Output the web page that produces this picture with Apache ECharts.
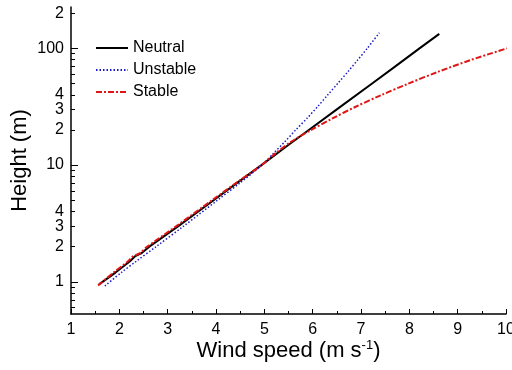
<!DOCTYPE html>
<html>
<head>
<meta charset="utf-8">
<script src="https://cdn.jsdelivr.net/npm/echarts@6/dist/echarts.min.js"></script>
<style>
  html, body { margin: 0; padding: 0; background: #fff; }
  #chart { width: 512px; height: 370px; }
</style>
</head>
<body>
<div id="chart"></div>
<script>
// Wind profiles: height (m) against wind speed (m/s) for three stability classes
const neutralHeight = [0.95, 1.2, 1.5, 1.65, 1.75, 2, 3, 5, 7, 10, 15, 20, 30, 50, 70, 100, 133];
const neutralSpeed  = [1.58, 1.92, 2.22, 2.32, 2.45, 2.62, 3.22, 3.95, 4.43, 4.94, 5.51, 5.92, 6.50, 7.23, 7.71, 8.21, 8.62];

const unstableHeight = [0.92, 1.2, 1.5, 2, 3, 5, 7, 10, 12.6, 15.8, 20, 25.1, 31.6, 39.8, 50.1, 63.1, 79.4, 100, 136];
const unstableSpeed  = [1.70, 2.04, 2.35, 2.76, 3.33, 4.03, 4.49, 4.95, 5.19, 5.42, 5.65, 5.88, 6.10, 6.31, 6.52, 6.73, 6.93, 7.13, 7.38];

const stableHeight = [0.93, 1.2, 1.5, 1.65, 1.75, 2, 3, 5, 7, 10, 12.6, 15.8, 20, 25.1, 31.6, 39.8, 50.1, 63.1, 79.4, 100];
const stableSpeed  = [1.56, 1.88, 2.18, 2.28, 2.42, 2.58, 3.18, 3.92, 4.41, 4.94, 5.23, 5.55, 5.97, 6.41, 6.89, 7.42, 7.99, 8.60, 9.27, 10.02];

// Height axis: labelled values and their printed text, plus tick positions
const yLabelValues = [1, 2, 3, 4, 10, 20, 30, 40, 100, 200];
const yLabelTexts  = ['1', '2', '3', '4', '10', '2', '3', '4', '100', '2'];
const yMajorTicks  = [1, 10, 100];
const yMinorTicks  = [0.6, 0.7, 0.8, 0.9, 2, 3, 4, 5, 6, 7, 8, 9, 20, 30, 40, 50, 60, 70, 80, 90, 200];

const pairs = (xs, ys) => xs.map((x, i) => [x, ys[i]]);

const FONT = 'Liberation Sans, Arial, sans-serif';
const chart = echarts.init(document.getElementById('chart'), null, { renderer: 'canvas' });

function yLabel(v) {
  for (let i = 0; i < yLabelValues.length; i++) {
    if (Math.abs(v - yLabelValues[i]) / yLabelValues[i] < 1e-6) return yLabelTexts[i];
  }
  return '';
}

const yCommon = {
  type: 'log',
  logBase: 10,
  min: 0.53,
  max: 226,
  position: 'left',
  splitLine: { show: false }
};

chart.setOption({
  animation: false,
  backgroundColor: '#ffffff',
  grid: { left: 71, right: 6, top: 7, bottom: 56, containLabel: false, outerBoundsMode: 'none' },
  legend: {
    orient: 'vertical',
    left: 90,
    top: 35,
    itemWidth: 32,
    itemHeight: 10,
    itemGap: 6,
    itemStyle: { opacity: 0 },
    textStyle: { fontFamily: FONT, fontSize: 16, color: '#000' },
    data: ['Neutral', 'Unstable', 'Stable']
  },
  xAxis: {
    type: 'value',
    min: 1,
    max: 10,
    interval: 1,
    name: '{a|Wind speed (m s}{s|-1}{a|)}',
    nameLocation: 'middle',
    nameGap: 25,
    nameMoveOverlap: false,
    nameTextStyle: {
      rich: {
        a: { fontFamily: FONT, fontSize: 22, color: '#000' },
        s: { fontFamily: FONT, fontSize: 13, color: '#000', verticalAlign: 'top', padding: [0, 0, 11, 0] }
      }
    },
    axisLine: { lineStyle: { color: '#000', width: 1.5 } },
    axisTick: { inside: true, length: 5, lineStyle: { color: '#000', width: 1 } },
    minorTick: { show: true, splitNumber: 2, length: 3, lineStyle: { color: '#000', width: 1 } },
    axisLabel: { fontFamily: FONT, fontSize: 16, color: '#000', margin: 8 },
    splitLine: { show: false }
  },
  yAxis: [
    Object.assign({}, yCommon, {
      name: 'Height (m)',
      nameLocation: 'middle',
      nameRotate: 90,
      nameGap: 40,
      nameMoveOverlap: false,
      nameTextStyle: { fontFamily: FONT, fontSize: 22, color: '#000' },
      axisLine: { show: true, lineStyle: { color: '#000', width: 1.5 } },
      axisTick: { inside: true, length: 7, customValues: yMajorTicks, lineStyle: { color: '#000', width: 1 } },
      axisLabel: { customValues: yLabelValues, formatter: yLabel, fontFamily: FONT, fontSize: 16, color: '#000', margin: 7 }
    }),
    Object.assign({}, yCommon, {
      axisLine: { show: false },
      axisTick: { show: true, inside: true, length: 4, customValues: yMinorTicks, lineStyle: { color: '#000', width: 1 } },
      axisLabel: { show: false }
    })
  ],
  series: [
    {
      name: 'Neutral',
      type: 'line',
      yAxisIndex: 0,
      symbol: 'none',
      data: pairs(neutralSpeed, neutralHeight),
      lineStyle: { color: '#000000', width: 2 },
      itemStyle: { color: '#000000' },
      z: 2
    },
    {
      name: 'Unstable',
      type: 'line',
      yAxisIndex: 0,
      symbol: 'none',
      smooth: 0.3,
      data: pairs(unstableSpeed, unstableHeight),
      lineStyle: { color: '#1a1ac8', width: 1.5, type: [1.5, 2] },
      itemStyle: { color: '#1a1ac8' },
      z: 3
    },
    {
      name: 'Stable',
      type: 'line',
      yAxisIndex: 0,
      symbol: 'none',
      smooth: 0.3,
      data: pairs(stableSpeed, stableHeight),
      lineStyle: { color: '#e01515', width: 2, type: [6, 2, 2, 2] },
      itemStyle: { color: '#e01515' },
      z: 4
    }
  ]
});
</script>
</body>
</html>
